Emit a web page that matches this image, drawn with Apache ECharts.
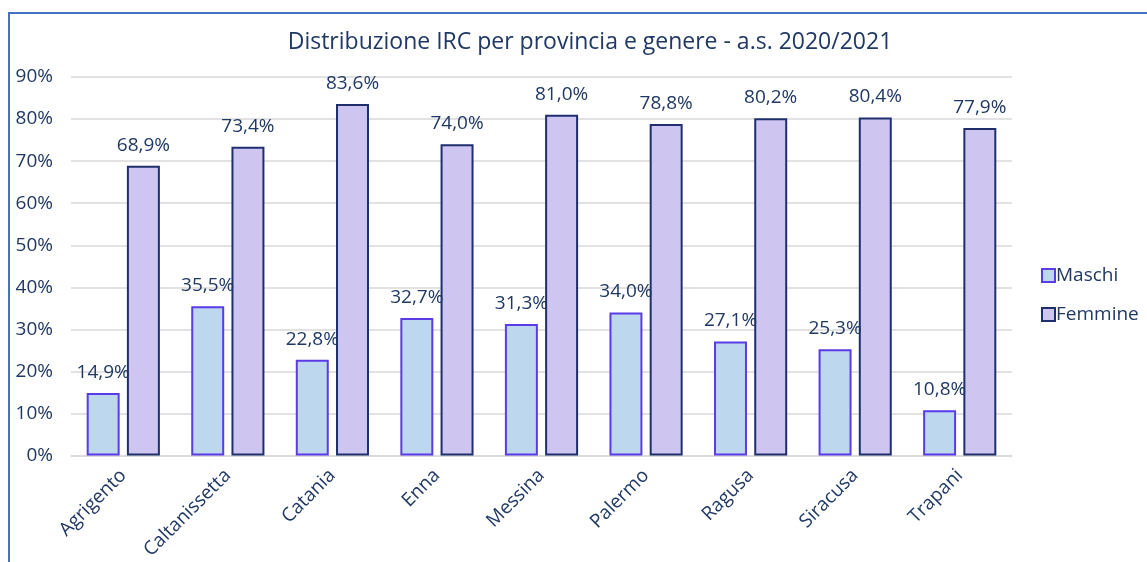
<!DOCTYPE html>
<html>
<head>
<meta charset="utf-8">
<script src="https://cdn.jsdelivr.net/npm/echarts@6/dist/echarts.min.js"></script>
<style>
  html, body { margin: 0; padding: 0; background: #fff; }
  #wrap { position: relative; width: 1147px; height: 562px; overflow: hidden; }
  #frame { position: absolute; left: 8px; top: 12px; width: 1200px; height: 600px;
           border-left: 2px solid #4472C4; border-top: 2px solid #4472C4; }
  #chart { position: absolute; left: 0; top: 0; width: 1147px; height: 562px; }
</style>
</head>
<body>
<div id="wrap">
  <div id="frame"></div>
  <div id="chart"></div>
</div>
<script>
const province = ["Agrigento", "Caltanissetta", "Catania", "Enna", "Messina", "Palermo", "Ragusa", "Siracusa", "Trapani"];
const maschi = [14.9, 35.5, 22.8, 32.7, 31.3, 34.0, 27.1, 25.3, 10.8];
const femmine = [68.9, 73.4, 83.6, 74.0, 81.0, 78.8, 80.2, 80.4, 77.9];

const textColor = "#1F3864";
const font = "Open Sans";

const fmt = (p) => p.value.toFixed(1).replace(".", ",") + "%";

const chart = echarts.init(document.getElementById("chart"));
chart.setOption({
  animation: false,
  textStyle: { fontFamily: font, color: textColor },
  title: {
    text: "Distribuzione IRC per provincia e genere - a.s. 2020/2021",
    left: 585,
    textAlign: "center",
    top: 26,
    textStyle: { fontFamily: font, fontSize: 23, fontWeight: "normal", color: textColor },
  },
  legend: {
    orient: "vertical",
    left: 1036,
    top: 261,
    itemGap: 20,
    itemWidth: 13,
    itemHeight: 13,
    icon: "rect",
    textStyle: { fontFamily: font, fontSize: 19, color: textColor, padding: [0, 0, 0, -4] },
    data: ["Maschi", "Femmine"],
  },
  grid: { left: 71, right: 135, top: 77, bottom: 106 },
  xAxis: {
    type: "category",
    data: province,
    axisTick: { show: false },
    axisLine: { lineStyle: { color: "#D9D9D9", width: 1.5 } },
    axisLabel: { rotate: 45, fontSize: 19, color: textColor, fontFamily: font, margin: 17 },
  },
  yAxis: {
    type: "value",
    min: 0,
    max: 90,
    interval: 10,
    axisLabel: { formatter: "{value}%", fontSize: 19, color: textColor, fontFamily: font, margin: 18 },
    splitLine: { lineStyle: { color: "#D9D9D9", width: 1.5 } },
  },
  series: [
    {
      name: "Maschi",
      type: "bar",
      data: maschi,
      barGap: "22%",
      barCategoryGap: "30%",
      itemStyle: { color: "#BDD7EE", borderColor: "#5B3BE8", borderWidth: 2 },
      label: { show: true, position: "top", distance: 11, formatter: fmt, fontSize: 19, color: textColor, fontFamily: font },
    },
    {
      name: "Femmine",
      type: "bar",
      data: femmine,
      itemStyle: { color: "#CEC6F0", borderColor: "#1F2F6E", borderWidth: 2 },
      label: { show: true, position: "top", distance: 11, formatter: fmt, fontSize: 19, color: textColor, fontFamily: font },
    },
  ],
});
</script>
</body>
</html>
